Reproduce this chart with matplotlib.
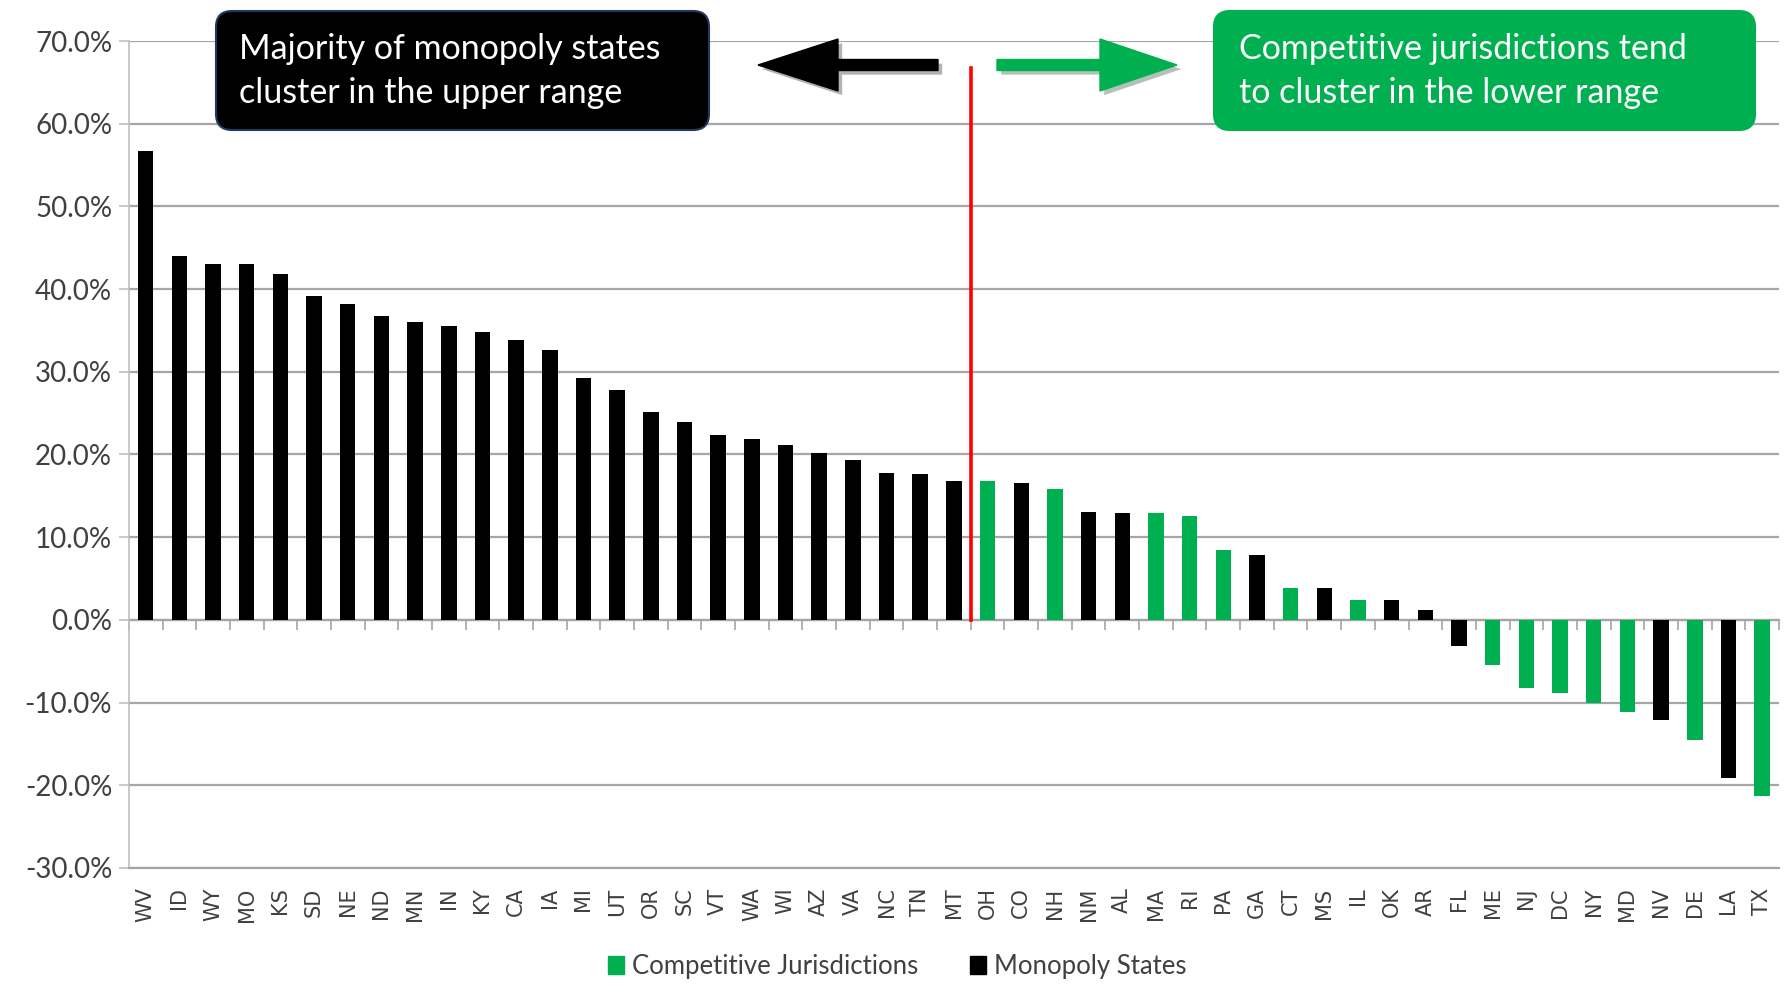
import matplotlib
matplotlib.use('Agg')
import matplotlib.pyplot as plt
from matplotlib.patches import FancyBboxPatch, FancyArrow, Patch
from matplotlib.ticker import FuncFormatter
import matplotlib.patheffects as pe
import numpy as np

states = ['WV', 'ID', 'WY', 'MO', 'KS', 'SD', 'NE', 'ND', 'MN', 'IN', 'KY', 'CA', 'IA',
          'MI', 'UT', 'OR', 'SC', 'VT', 'WA', 'WI', 'AZ', 'VA', 'NC', 'TN', 'MT', 'OH',
          'CO', 'NH', 'NM', 'AL', 'MA', 'RI', 'PA', 'GA', 'CT', 'MS', 'IL', 'OK', 'AR',
          'FL', 'ME', 'NJ', 'DC', 'NY', 'MD', 'NV', 'DE', 'LA', 'TX']
values = [56.7, 44.0, 43.0, 43.0, 41.8, 39.2, 38.2, 36.7, 36.0, 35.5, 34.8, 33.8, 32.6,
          29.2, 27.8, 25.1, 23.9, 22.4, 21.9, 21.2, 20.2, 19.3, 17.7, 17.6, 16.8, 16.8,
          16.5, 15.8, 13.1, 12.9, 12.9, 12.6, 8.5, 7.8, 3.9, 3.9, 2.4, 2.4, 1.2,
          -3.1, -5.5, -8.2, -8.9, -10.0, -11.1, -12.1, -14.5, -19.1, -21.3]
competitive_states = ['OH', 'NH', 'MA', 'RI', 'PA', 'CT', 'IL', 'ME', 'NJ', 'DC', 'NY',
                      'MD', 'DE', 'TX']
y_ticks = [-30, -20, -10, 0, 10, 20, 30, 40, 50, 60, 70]
legend_labels = ['Competitive Jurisdictions', 'Monopoly States']
left_note = 'Majority of monopoly states\ncluster in the upper range'
right_note = 'Competitive jurisdictions tend\nto cluster in the lower range'
divider_x = 24.5
divider_top = 66.7

GREEN = '#00B050'
BLACK = '#000000'
GRID = '#A6A6A6'
TEXT = '#404040'

fig = plt.figure(figsize=(17.87, 9.88), dpi=100)
ax = fig.add_axes([0.0721, 0.1215, 0.9234, 0.837])

x = np.arange(len(states))
colors = [GREEN if s in competitive_states else BLACK for s in states]
ax.bar(x, values, width=0.46, color=colors, zorder=3)

ax.set_xlim(-0.5, len(states) - 0.5)
ax.set_ylim(-30, 70)
ax.set_yticks(y_ticks)
ax.yaxis.set_major_formatter(FuncFormatter(lambda v, p: f"{v:.1f}%"))
ax.grid(axis='y', color=GRID, lw=1.6, zorder=0)
ax.set_axisbelow(True)
for s in ['top', 'right']:
    ax.spines[s].set_visible(False)
ax.spines['left'].set_color('#BFBFBF')
ax.spines['left'].set_linewidth(1.2)
ax.spines['bottom'].set_color(GRID)
ax.spines['bottom'].set_linewidth(1.6)
ax.tick_params(axis='y', length=7, width=1.2, color='#BFBFBF', labelsize=20,
               labelcolor=TEXT, pad=5)
for lab in ax.get_yticklabels():
    lab.set_family('Lato')
ax.set_xticks(x)
ax.set_xticklabels(states, rotation=90, fontsize=15, family='DejaVu Sans', color=TEXT)
ax.tick_params(axis='x', length=0, pad=14)

sec = ax.secondary_xaxis(0.3)
sec.set_xticks(np.arange(-0.5, len(states), 1.0))
sec.set_xticklabels([])
sec.tick_params(axis='x', length=7, width=1.2, color=GRID, direction='out')
sec.spines['bottom'].set_color(GRID)
sec.spines['bottom'].set_linewidth(1.6)

ax.plot([divider_x, divider_x], [0, divider_top], color='#FF0000', lw=2.6, zorder=4)

handles = [Patch(color=GREEN), Patch(color=BLACK)]
leg = fig.legend(handles, legend_labels, loc='center', bbox_to_anchor=(0.502, 0.022),
                 ncol=2, frameon=False, fontsize=18.5, handlelength=0.65, handleheight=0.7,
                 columnspacing=2.0, handletextpad=0.3)
for t in leg.get_texts():
    t.set_family('Lato')
    t.set_color(TEXT)

tr = fig.dpi_scale_trans
box1 = FancyBboxPatch((2.16, 8.58), 4.93, 1.19, boxstyle='round,pad=0,rounding_size=0.16',
                      facecolor='#000000', edgecolor='#1F3864', lw=1.5, transform=tr)
box2 = FancyBboxPatch((12.14, 8.58), 5.41, 1.19, boxstyle='round,pad=0,rounding_size=0.16',
                      facecolor=GREEN, edgecolor=GREEN, lw=1.5, transform=tr)
fig.add_artist(box1)
fig.add_artist(box2)
fig.text(2.39, 9.17, left_note, transform=tr, color='white', fontsize=24.5, family='Lato',
         va='center', ha='left', linespacing=1.45)
fig.text(12.39, 9.17, right_note, transform=tr, color='white', fontsize=24.5, family='Lato',
         va='center', ha='left', linespacing=1.45)

shadow = [pe.SimplePatchShadow(offset=(3, -3), alpha=0.3), pe.Normal()]
a1 = FancyArrow(9.38, 9.23, -1.80, 0, width=0.11, head_width=0.52, head_length=0.80,
                length_includes_head=True, color='#000000', transform=tr, path_effects=shadow)
a2 = FancyArrow(9.97, 9.23, 1.80, 0, width=0.11, head_width=0.52, head_length=0.77,
                length_includes_head=True, color=GREEN, transform=tr, path_effects=shadow)
fig.add_artist(a1)
fig.add_artist(a2)

fig.savefig('out.png', dpi=100)
